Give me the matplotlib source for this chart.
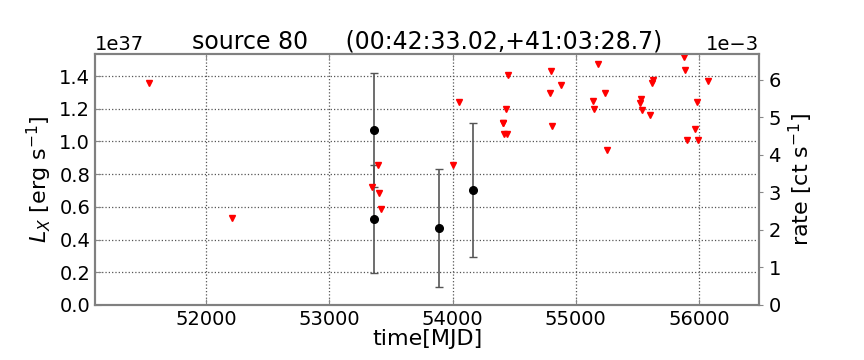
import numpy as np
import matplotlib
matplotlib.use("Agg")
import matplotlib.pyplot as plt

# detections: time [MJD], luminosity [erg/s], symmetric error
det_mjd = [53365, 53365, 53890, 54170]
det_lx = [1.07e37, 0.526e37, 0.469e37, 0.705e37]
det_err = [0.35e37, 0.33e37, 0.36e37, 0.41e37]

# upper limits
ul_mjd = [51534, 52213, 53343, 53395, 53400, 53422, 54006, 54054,
          54409, 54411, 54420, 54440, 54430, 54449, 54787, 54798,
          54806, 54879, 55139, 55149, 55182, 55241, 55252, 55520,
          55530, 55541, 55606, 55617, 55625, 55874, 55882, 55901,
          55968, 55982, 55995, 56076]
ul_lx = [1.360, 0.534, 0.724, 0.856, 0.683, 0.587, 0.856, 1.240,
         1.115, 1.113, 1.046, 1.044, 1.199, 1.405, 1.295, 1.433,
         1.093, 1.348, 1.250, 1.199, 1.472, 1.295, 0.948, 1.234,
         1.258, 1.195, 1.164, 1.360, 1.376, 1.519, 1.437, 1.009,
         1.076, 1.240, 1.009, 1.368]
ul_lx = [v * 1e37 for v in ul_lx]

lx_max = 1.535e37
rate_max = 6.69e-3

fig = plt.figure(figsize=(8.64, 3.6), dpi=100)
ax = fig.add_axes([0.110, 0.153, 0.769, 0.697])

ax.errorbar(det_mjd, det_lx, yerr=det_err, fmt='o', color='k', ms=5.5,
            ecolor='#555555', elinewidth=1.2, capsize=3, capthick=1, zorder=3)
ax.plot(ul_mjd, ul_lx, 'v', color='red', ms=4.2, mec='red', zorder=4)

ax.set_xlim(51100, 56490)
ax.set_ylim(0, lx_max)
ax.set_xticks([52000, 53000, 54000, 55000, 56000])
ax.set_yticks(np.arange(0, 1.41e37, 0.2e37))
ax.grid(True, linestyle=':', color='#555555', linewidth=0.9)
ax.tick_params(direction='in', length=4, color='#888888', labelsize=14,
               top=True)
for sp in ax.spines.values():
    sp.set_color('#808080')
    sp.set_linewidth(1.5)
ax.yaxis.get_offset_text().set_fontsize(14)

ax.set_xlabel("time[MJD]", fontsize=16, labelpad=0)
ax.set_ylabel(r"$L_X$ [erg s$^{-1}$]", fontsize=16)
ax.set_title("source 80     (00:42:33.02,+41:03:28.7)", fontsize=17, pad=3)

ax2 = ax.twinx()
ax2.set_ylim(0, rate_max)
ax2.set_yticks(np.arange(0, 6.1e-3, 1e-3))
ax2.ticklabel_format(axis='y', style='sci', scilimits=(0, 0))
ax2.tick_params(direction='out', length=3, color='#888888', labelsize=14)
for sp in ax2.spines.values():
    sp.set_color('#808080')
    sp.set_linewidth(1.5)
ax2.yaxis.get_offset_text().set_fontsize(14)
ax2.set_ylabel(r"rate [ct s$^{-1}$]", fontsize=16)

fig.savefig("out.png", dpi=100)
